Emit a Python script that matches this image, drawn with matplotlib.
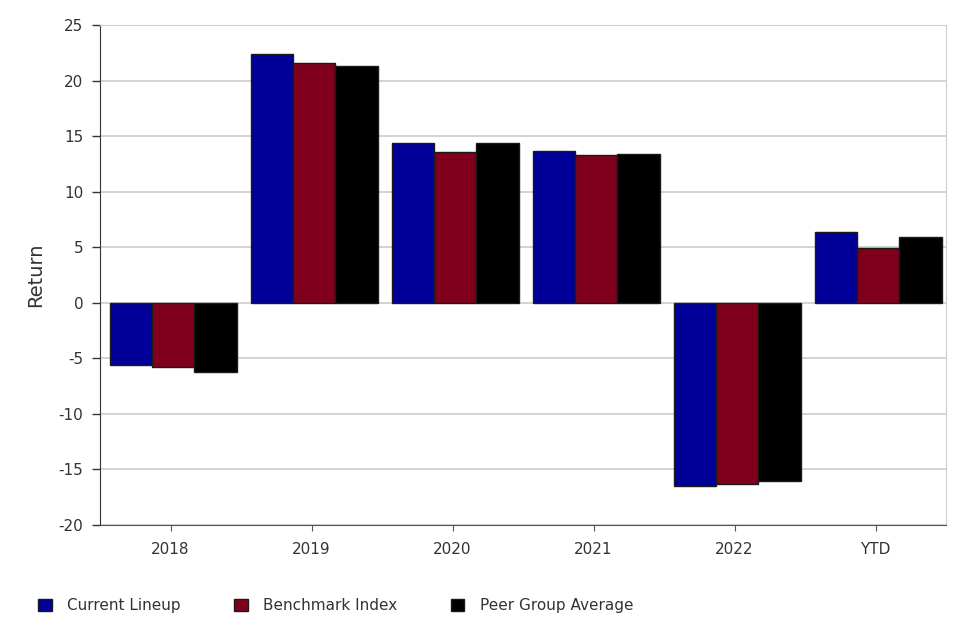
import numpy as np
import matplotlib
matplotlib.use("Agg")
import matplotlib.pyplot as plt
from matplotlib.patches import Patch

plt.rcParams["axes.unicode_minus"] = False

categories = ["2018", "2019", "2020", "2021", "2022", "YTD"]
current_lineup = [-5.6, 22.4, 14.4, 13.7, -16.5, 6.4]
benchmark_index = [-5.8, 21.6, 13.6, 13.3, -16.3, 4.9]
peer_group_avg = [-6.2, 21.3, 14.4, 13.4, -16.0, 5.9]

series_names = ["Current Lineup", "Benchmark Index", "Peer Group Average"]
series_colors = ["#000099", "#80001c", "#000000"]

fig = plt.figure(figsize=(9.61, 6.22), dpi=100)
ax = fig.add_axes([100 / 961, 1 - 525 / 622, 846 / 961, 500 / 622])

x = np.arange(len(categories))
width = 0.3
for i, (vals, color) in enumerate(zip([current_lineup, benchmark_index, peer_group_avg], series_colors)):
    ax.bar(x + (i - 1) * width + 0.02, vals, width, color=color,
           edgecolor="#1a1a1a", linewidth=1.0, zorder=3)

ax.set_xlim(-0.5, len(categories) - 0.5)
ax.set_ylim(-20, 25)
ax.set_yticks(range(-20, 26, 5))
ax.set_xticks(x)
ax.set_xticklabels(categories)
ax.yaxis.grid(True, color="#cccccc", linewidth=1.2, zorder=0)

for side in ["top", "right"]:
    ax.spines[side].set_color("#cccccc")
ax.spines["left"].set_color("#333333")
ax.spines["bottom"].set_color("#555555")
ax.tick_params(axis="y", colors="#333333", labelsize=11, length=6, width=1, labelcolor="#333333", pad=6)
ax.tick_params(axis="x", colors="#555555", labelsize=11, length=4, labelcolor="#333333", pad=8)
ax.set_ylabel("Return", fontsize=14, color="#333333", labelpad=10)

handles = [Patch(facecolor=c, edgecolor="#1a1a1a", label=n) for n, c in zip(series_names, series_colors)]
fig.legend(handles=handles, loc="lower left", bbox_to_anchor=(24 / 961, -0.008), ncol=3,
           frameon=False, fontsize=11, handlelength=0.9, handleheight=0.9,
           columnspacing=3.5, handletextpad=1.0, labelcolor="#333333")

fig.savefig("out.png", dpi=100)
